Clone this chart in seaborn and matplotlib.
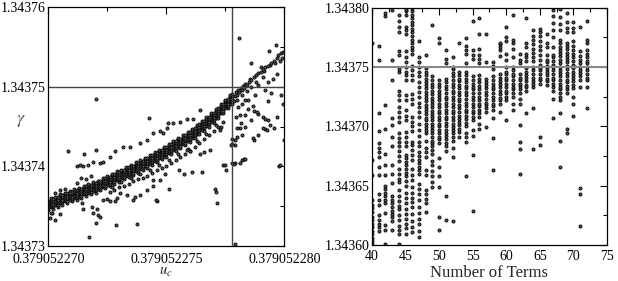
import numpy as np
import pandas as pd
import matplotlib
matplotlib.use("Agg")
import matplotlib.pyplot as plt
import seaborn as sns
from matplotlib.ticker import FixedLocator, FixedFormatter, MultipleLocator

# ---- left panel: gamma vs u_c ----
# u_c given as offset in units of 1e-9 above 0.379052270
# gamma given as offset in units of 1e-5 above 1.34373
UC_BASE = 0.379052270
G_BASE = 1.34373

band_uc = [0.0, 0.1, 0.2, 0.3, 0.4, 0.5, 0.6, 0.7, 0.8, 0.9,
           1.0, 1.1, 1.2, 1.3, 1.4, 1.5, 1.6, 1.7, 1.8, 1.9,
           2.0, 2.1, 2.2, 2.3, 2.4, 2.5, 2.6, 2.7, 2.8, 2.9,
           3.0, 3.1, 3.2, 3.3, 3.4, 3.5, 3.6, 3.7, 3.8, 3.9,
           4.0, 4.1, 4.2, 4.3, 4.4, 4.5, 4.6, 4.7, 4.8, 4.9,
           5.0, 5.1, 5.2, 5.3, 5.4, 5.5, 5.6, 5.7, 5.8, 5.9,
           6.0, 6.1, 6.2, 6.3, 6.4, 6.5, 6.6, 6.7, 6.8, 6.9,
           7.0, 7.1, 7.2, 7.3, 7.4, 7.5, 7.6, 7.7, 7.8]
band_low = [.45, .49, .47, .51, .49, .54, .52, .56, .54, .58,
            .56, .60, .58, .62, .60, .65, .63, .67, .65, .69,
            .67, .71, .70, .74, .73, .77, .75, .80, .78, .83,
            .81, .85, .84, .88, .87, .91, .89, .94, .92, .97,
            .95, 1.00, .98, 1.03, 1.02, 1.07, 1.05, 1.10, 1.09, 1.13,
            1.12, 1.17, 1.16, 1.21, 1.20, 1.25, 1.23, 1.28, 1.27, 1.32,
            1.31, 1.36, 1.36, 1.41, 1.41, 1.46, 1.45, 1.51, 1.50, 1.56,
            1.55, 1.61, 1.61, 1.67, 1.67, 1.73, 1.73, 1.79, 1.79]
band_q1 = [.48, .52, .50, .54, .52, .57, .55, .59, .57, .61,
           .59, .63, .61, .65, .63, .68, .66, .70, .68, .72,
           .70, .74, .73, .77, .76, .80, .78, .83, .81, .86,
           .84, .88, .87, .91, .90, .94, .92, .97, .95, 1.00,
           .98, 1.03, 1.01, 1.06, 1.05, 1.10, 1.08, 1.13, 1.12, 1.16,
           1.15, 1.20, 1.19, 1.24, 1.23, 1.28, 1.26, 1.31, 1.30, 1.35,
           1.34, 1.39, 1.39, 1.44, 1.44, 1.49, 1.48, 1.54, 1.53, 1.59,
           1.58, 1.64, 1.64, 1.70, 1.70, 1.76, 1.76, 1.82, 1.82]
band_mid = [.51, .55, .53, .57, .55, .60, .58, .62, .60, .64,
            .62, .66, .64, .68, .66, .71, .69, .73, .71, .75,
            .73, .77, .76, .80, .79, .83, .81, .86, .84, .89,
            .87, .91, .90, .94, .93, .97, .95, 1.00, .98, 1.03,
            1.01, 1.06, 1.04, 1.09, 1.08, 1.13, 1.11, 1.16, 1.15, 1.19,
            1.18, 1.23, 1.22, 1.27, 1.26, 1.31, 1.29, 1.34, 1.33, 1.38,
            1.37, 1.42, 1.42, 1.47, 1.47, 1.52, 1.51, 1.57, 1.56, 1.62,
            1.61, 1.67, 1.67, 1.73, 1.73, 1.79, 1.79, 1.85, 1.85]
band_q3 = [.54, .58, .56, .60, .58, .63, .61, .65, .63, .67,
           .65, .69, .67, .71, .69, .74, .72, .76, .74, .78,
           .76, .80, .79, .83, .82, .86, .84, .89, .87, .92,
           .90, .94, .93, .97, .96, 1.00, .98, 1.03, 1.01, 1.06,
           1.04, 1.09, 1.07, 1.12, 1.11, 1.16, 1.14, 1.19, 1.18, 1.22,
           1.21, 1.26, 1.25, 1.30, 1.29, 1.34, 1.32, 1.37, 1.36, 1.41,
           1.40, 1.45, 1.45, 1.50, 1.50, 1.55, 1.54, 1.60, 1.59, 1.65,
           1.64, 1.70, 1.70, 1.76, 1.76, 1.82, 1.82, 1.88, 1.88]
band_high = [.57, .60, .59, .62, .61, .65, .64, .67, .66, .69,
             .68, .71, .70, .73, .72, .76, .75, .78, .77, .80,
             .79, .82, .82, .85, .85, .88, .87, .91, .90, .94,
             .93, .96, .96, .99, .99, 1.02, 1.01, 1.05, 1.04, 1.08,
             1.07, 1.11, 1.10, 1.14, 1.14, 1.18, 1.17, 1.21, 1.21, 1.24,
             1.24, 1.28, 1.28, 1.32, 1.32, 1.36, 1.35, 1.39, 1.39, 1.43,
             1.43, 1.47, 1.48, 1.52, 1.53, 1.57, 1.57, 1.62, 1.62, 1.67,
             1.67, 1.72, 1.73, 1.78, 1.79, 1.84, 1.85, 1.90, 1.91]

# scattered points (u_c offset, gamma offset)
scatter_pts = [
    (0.07, .35), (0.14, .41), (0.10, .42), (0.30, .33), (0.50, .40), (1.41, .54),
    (1.48, .47), (1.84, .49), (1.91, .41), (2.05, .47), (2.12, .39), (2.19, .37),
    (1.74, .11), (2.00, .29), (2.85, .26), (3.77, .28), (2.33, .58), (2.47, .59),
    (2.61, .56), (2.82, .56), (2.90, .60), (3.04, .66), (3.32, .64), (3.60, .58),
    (3.67, .62), (3.88, .64), (4.17, .70), (4.45, .75), (4.60, .57), (4.73, .83),
    (4.94, .91), (5.10, .72), (6.10, .93), (7.10, .68), (7.15, .54), (7.92, .03),
    (4.42, .83), (4.56, .58), (5.55, .95), (5.76, .91), (6.50, .93), (7.05, .72),
    (7.42, 1.02), (7.53, .96), (7.91, 1.04), (8.19, 1.08), (8.30, 1.09), (9.79, 1.01),
    (0.30, .66), (0.50, .70), (0.70, .72), (0.90, .66), (1.20, .79), (1.40, .86),
    (1.60, .84), (1.80, .88), (1.20, 1.00), (1.34, 1.02), (1.48, 1.00), (1.69, 1.02),
    (1.91, 1.05), (2.19, 1.04), (2.33, 1.06), (0.82, 1.19), (1.53, 1.16), (2.02, 1.21),
    (2.02, 1.85), (2.61, 1.12), (2.82, 1.19), (3.18, 1.25), (3.46, 1.24), (3.88, 1.29),
    (4.17, 1.33), (4.28, 1.61), (4.45, 1.42), (4.73, 1.44), (5.01, 1.48), (5.08, 1.54),
    (5.30, 1.54), (5.58, 1.56), (5.86, 1.60), (6.14, 1.60), (6.43, 1.71), (4.87, 1.42),
    (7.27, 1.46), (7.30, 1.49), (7.77, 1.34), (7.77, 1.28), (7.98, 1.37), (8.12, 1.48),
    (8.33, 1.50), (8.19, 1.39), (8.73, 1.33), (9.18, 1.47), (10.0, 1.33), (9.80, 1.02),
    (2.60, .68), (2.80, .70), (3.00, .74), (3.20, .76), (3.40, .78), (3.60, .82),
    (3.80, .84), (4.00, .86), (4.20, .88), (4.40, .92), (4.60, .95), (4.80, .98),
    (5.00, 1.00), (5.20, 1.04), (5.40, 1.08), (5.60, 1.12), (5.80, 1.15), (6.00, 1.20),
    (6.20, 1.24), (6.40, 1.29), (6.60, 1.34), (6.80, 1.40), (7.00, 1.45), (7.20, 1.50),
    (7.40, 1.56), (2.70, .74), (3.10, .80), (3.50, .86), (3.90, .90), (4.30, .95),
    (4.70, 1.02), (5.10, 1.08), (5.50, 1.15), (5.90, 1.22), (6.30, 1.32), (6.70, 1.41),
    (7.10, 1.52), (5.86, 1.21), (6.00, 1.19), (6.43, 1.16), (6.60, 1.18), (6.85, 1.21),
    (8.08, 2.61), (9.35, 2.45), (9.66, 2.52), (9.92, 2.36), (8.59, 2.30), (9.00, 2.25),
    (9.15, 2.20), (9.40, 2.28), (9.60, 2.30), (9.80, 2.33), (9.10, 2.12), (9.30, 2.06),
    (9.50, 2.10), (9.70, 2.16), (8.90, 2.02), (9.20, 1.96), (9.45, 1.92), (9.85, 1.90),
    (8.05, 1.75), (8.20, 1.78), (8.45, 1.72), (8.70, 1.70), (8.90, 1.66), (9.10, 1.62),
    (9.30, 1.58), (8.60, 1.58), (8.35, 1.64), (7.95, 1.62), (8.15, 1.55), (9.55, 1.48),
    (9.70, 1.62), (9.95, 1.78), (9.30, 1.82), (8.75, 1.90), (8.69, 1.36), (8.90, 1.39),
    (9.11, 1.48), (9.25, 1.46), (9.39, 1.52), (9.18, 1.60), (8.83, 1.69), (8.69, 1.76),
    (8.47, 1.83), (8.33, 1.83), (8.12, 1.65), (7.98, 1.48), (7.91, 1.33), (7.91, 1.27),
    (7.73, 1.27), (8.12, 1.04), (7.88, 1.03), (8.33, 1.09), (7.49, 1.02), (7.77, 1.04),
    (7.90, 1.88), (7.95, 1.93), (8.00, 1.90), (8.05, 1.96), (8.10, 1.93), (8.15, 1.99),
    (8.20, 1.96), (8.25, 2.01), (8.30, 1.99), (8.35, 2.04), (8.40, 2.02), (8.50, 2.06),
    (8.55, 2.10), (8.60, 2.08), (8.70, 2.12), (8.80, 2.15), (8.90, 2.17), (9.00, 2.19),
    (9.10, 2.22), (9.20, 2.25), (9.30, 2.26), (9.45, 2.30), (9.55, 2.33), (9.70, 2.36),
    (9.75, 2.40), (9.85, 2.42), (9.95, 2.44), (7.85, 1.82), (8.00, 1.84), (8.20, 1.90),
    (8.40, 1.95), (8.60, 2.00), (8.80, 2.06),
]

uc_mark = 7.77          # vertical reference line (offset units)
gamma_mark = 1.34375    # horizontal reference line

# ---- right panel: gamma vs number of terms ----
# gamma given as offset in units of 1e-5 above 1.3436
R_BASE = 1.3436
terms = list(range(40, 73))
terms_gamma = [
    [0.1, 0.3, 0.6, 0.9, 1.2, 1.5, 1.8, 2.1, 2.4, 2.8, 3.1, 3.4, 3.8, 5.9, 7.2, 17.0],
    [1.2, 1.5, 1.8, 2.1, 2.5, 3.4, 3.8, 4.3, 5.9, 6.6, 7.4, 7.8, 8.2, 8.6, 9.6, 11.1, 15.6, 16.8],
    [0.1, 1.3, 1.7, 2.7, 3.5, 3.8, 4.1, 4.4, 4.7, 5.0, 5.9, 6.7, 7.7, 9.8, 11.8, 19.3, 19.5],
    [1.3, 2.0, 2.4, 2.6, 2.9, 3.2, 3.5, 3.8, 4.1, 5.2, 6.0, 6.7, 8.3, 9.1, 10.1, 10.7, 13.9, 15.6, 19.8],
    [0.1, 0.9, 1.3, 1.6, 2.1, 2.5, 3.0, 3.3, 3.7, 4.1, 4.6, 5.3, 5.6, 6.0, 6.4, 7.1, 7.5, 7.9, 8.3,
     8.7, 9.0, 9.4, 10.4, 10.8, 11.2, 11.6, 12.2, 12.6, 13.0, 14.6, 14.8, 16.0, 16.3, 17.9, 18.4,
     18.9, 19.4],
    [0.9, 1.4, 1.8, 2.2, 2.6, 3.0, 3.5, 4.0, 4.4, 5.0, 5.4, 5.8, 6.1, 6.4, 6.7, 7.0, 7.3, 7.6, 8.3,
     8.7, 9.1, 9.5, 10.5, 10.9, 11.4, 12.2, 12.6, 13.9, 14.3, 14.6, 15.0, 15.4, 15.8, 16.3, 17.8,
     18.1, 18.4, 19.4, 19.7, 19.9],
    [1.1, 1.5, 2.0, 2.6, 3.2, 3.6, 4.0, 4.4, 4.9, 5.5, 5.9, 6.4, 7.2, 7.6, 8.0, 8.4, 8.7, 9.6, 10.0,
     10.4, 10.8, 11.9, 12.3, 12.7, 13.9, 14.3, 14.7, 15.1, 16.1, 16.4, 16.7, 17.0, 17.3, 17.6, 17.9,
     18.2, 18.5, 18.8, 19.1, 19.4, 19.7, 20.0],
    [0.7, 1.2, 1.8, 2.2, 2.7, 3.2, 3.8, 4.3, 4.7, 5.1, 6.0, 6.3, 6.6, 6.9, 7.2, 7.5, 7.8, 8.3, 8.7,
     9.2, 9.7, 10.2, 10.8, 11.2, 11.6, 12.0, 12.5, 12.9, 13.3, 13.7, 14.2, 14.6, 15.0, 15.4, 15.8, 17.2],
    [2.8, 3.5, 3.9, 4.3, 4.6, 5.9, 6.3, 7.4, 7.8, 8.2, 8.8, 9.4, 9.7, 9.9, 10.2, 10.5, 10.7, 11.0,
     11.3, 11.5, 11.8, 12.1, 12.4, 12.6, 12.9, 13.2, 13.5, 13.7, 14.0, 14.3, 14.6, 14.9, 16.0],
    [4.9, 5.3, 5.8, 6.2, 6.7, 7.1, 7.7, 8.0, 8.3, 8.6, 8.8, 9.1, 9.4, 9.7, 9.9, 10.2, 10.5, 10.8,
     11.0, 11.3, 11.6, 11.9, 12.1, 12.4, 12.7, 13.0, 13.3, 13.6, 13.9, 14.2, 18.5],
    [1.3, 2.4, 4.9, 5.8, 6.6, 7.3, 8.6, 8.9, 9.1, 9.4, 9.7, 10.0, 10.2, 10.5, 10.8, 11.1, 11.3, 11.6,
     11.9, 12.2, 12.5, 12.7, 13.0, 13.3, 13.6, 13.9, 17.0, 17.4],
    [2.1, 4.1, 7.9, 8.3, 8.6, 8.9, 9.2, 9.4, 9.7, 10.0, 10.3, 10.6, 10.8, 11.1, 11.4, 11.7, 12.0,
     12.3, 12.5, 12.8, 13.1, 13.4, 13.7, 14.0, 15.3, 15.7, 16.4],
    [2.0, 7.4, 8.2, 8.8, 9.1, 9.4, 9.7, 9.9, 10.2, 10.5, 10.8, 11.1, 11.3, 11.6, 11.9, 12.2, 12.5,
     12.8, 13.0, 13.3, 13.6, 13.9, 14.2, 14.5, 14.8, 15.0, 15.8],
    [9.1, 9.5, 9.8, 10.1, 10.4, 10.6, 10.9, 11.2, 11.5, 11.8, 12.1, 12.3, 12.6, 12.9, 13.2, 13.5,
     13.8, 14.0, 14.3, 14.6, 17.0],
    [5.8, 8.7, 9.1, 9.4, 10.0, 10.3, 10.6, 10.9, 11.2, 11.4, 11.7, 12.0, 12.3, 12.6, 12.9, 13.2,
     13.4, 13.7, 14.0, 14.3, 14.6, 15.3, 16.1, 16.4, 16.8, 17.4],
    [2.9, 7.6, 9.2, 9.7, 10.5, 10.8, 11.1, 11.3, 11.6, 11.9, 12.2, 12.5, 12.8, 13.1, 13.3, 13.6,
     13.9, 14.2, 15.7, 16.0, 16.4, 18.9],
    [9.8, 10.2, 10.8, 11.1, 11.4, 11.7, 11.9, 12.2, 12.5, 12.8, 13.1, 13.4, 13.7, 14.0, 14.3, 15.3,
     15.7, 16.0, 16.5, 17.8, 19.1],
    [9.9, 11.2, 11.5, 11.8, 12.0, 12.3, 12.6, 12.9, 13.2, 13.5, 13.7, 14.0, 15.4, 17.8],
    [6.3, 9.0, 10.7, 11.4, 11.7, 11.9, 12.2, 12.5, 12.8, 13.1, 13.3, 13.6, 13.9, 14.2, 14.8, 15.1, 15.4],
    [11.2, 11.9, 12.2, 12.4, 12.7, 13.0, 13.3, 13.6, 13.8, 14.1, 14.4, 15.9, 16.4, 16.7, 16.9, 17.0],
    [10.5, 12.2, 12.5, 12.8, 13.0, 13.3, 13.6, 13.9, 14.1, 14.4, 14.6, 15.0, 15.6, 16.1, 17.2, 17.5, 18.4],
    [11.4, 11.9, 12.5, 12.8, 13.1, 13.3, 13.6, 13.9, 14.2, 14.4, 14.7, 15.0, 15.8, 16.5, 17.0, 17.3, 19.4],
    [6.0, 8.1, 8.7, 10.1, 11.9, 12.3, 12.8, 13.1, 13.4, 13.6, 13.9, 14.1, 14.4, 15.3, 15.6, 16.1],
    [11.1, 13.0, 13.3, 13.5, 13.8, 14.1, 14.3, 14.6, 14.9, 15.5, 15.8, 16.1, 16.7, 17.0, 19.1],
    [8.1, 11.5, 13.3, 13.6, 13.8, 14.1, 14.4, 14.7, 15.0, 15.5, 15.8, 16.2, 16.5, 16.9, 17.3, 17.6, 18.1],
    [8.4, 9.1, 13.6, 13.9, 14.1, 14.4, 14.7, 14.9, 15.2, 15.6, 16.0, 16.4, 16.8, 17.2, 17.6, 17.9, 18.2],
    [13.5, 13.8, 14.0, 14.3, 14.6, 14.8, 15.1, 15.4, 15.6, 16.0, 16.7, 17.0, 17.8],
    [10.7, 12.3, 13.0, 13.3, 13.6, 13.9, 14.1, 14.4, 14.7, 15.0, 15.2, 15.5, 15.8, 16.0, 16.7, 17.5,
     18.1, 18.7, 19.3, 19.8],
    [6.6, 8.8, 11.1, 12.2, 12.5, 12.8, 13.1, 13.3, 13.6, 13.9, 14.2, 14.5, 14.7, 15.0, 15.3, 15.6,
     15.9, 16.2, 16.4, 16.7, 17.0, 17.3, 18.1, 18.6, 19.2, 19.9],
    [9.4, 9.8, 12.8, 13.1, 13.4, 13.7, 13.9, 14.2, 14.5, 14.8, 15.1, 15.4, 15.7, 15.9, 16.2, 16.5,
     16.8, 17.0, 17.9, 18.3, 18.8, 19.5],
    [10.9, 11.9, 12.5, 13.2, 13.5, 13.8, 14.1, 14.3, 14.6, 14.9, 15.2, 15.5, 15.8, 16.1, 16.4, 16.8,
     17.2, 17.9, 18.3, 18.8],
    [1.6, 4.3, 4.8, 13.3, 13.9, 14.2, 14.5, 14.7, 15.0, 15.3, 15.6, 15.9, 16.3, 18.4],
    [11.5, 13.3, 13.9, 14.1, 14.4, 14.7, 15.0, 15.3, 15.5, 15.8, 16.1, 16.4, 17.0, 17.3, 18.9],
]

left_xticks = [UC_BASE, UC_BASE + 5e-9, UC_BASE + 10e-9]
left_xlabels = ["0.379052270", "0.379052275", "0.379052280"]
left_yticks = [1.34373, 1.34374, 1.34375, 1.34376]
right_yticks = [1.34360, 1.34365, 1.34370, 1.34375, 1.34380]


def build_frames():
    uc_off = band_uc * 5 + [p[0] for p in scatter_pts]
    g_off = (band_low + band_q1 + band_mid + band_q3 + band_high
             + [p[1] for p in scatter_pts])
    left = pd.DataFrame({
        "u_c": UC_BASE + np.array(uc_off) * 1e-9,
        "gamma": G_BASE + np.array(g_off) * 1e-5,
    })
    rows = []
    for n, vals in zip(terms, terms_gamma):
        for v in vals:
            rows.append((n, R_BASE + v * 1e-5))
    right = pd.DataFrame(rows, columns=["terms", "gamma"])
    return left, right


def style_axes(ax, xpad):
    for sp in ax.spines.values():
        sp.set_color("black")
        sp.set_linewidth(0.9)
    ax.tick_params(which="both", direction="in", top=True, right=True,
                   labelsize=10, colors="black", width=0.8)
    ax.tick_params(axis="y", pad=2)
    ax.tick_params(axis="x", pad=xpad)
    ax.tick_params(which="major", length=5)
    ax.tick_params(which="minor", length=3)


sns.set_theme(style="white")
plt.rcParams["font.family"] = ["Liberation Serif", "DejaVu Serif"]
plt.rcParams["mathtext.fontset"] = "stix"

left_df, right_df = build_frames()

fig = plt.figure(figsize=(6.18, 2.81), dpi=100)
ax1 = fig.add_axes([0.0782, 0.1246, 0.3819, 0.8495])
ax2 = fig.add_axes([0.6019, 0.1281, 0.3803, 0.8450])

mk = dict(marker="o", s=5, facecolor="#555555", edgecolor="black", linewidth=0.6)

sns.scatterplot(data=left_df, x="u_c", y="gamma", ax=ax1, **mk)
ax1.axvline(UC_BASE + uc_mark * 1e-9, color="#444444", lw=1.0)
ax1.axhline(gamma_mark, color="#444444", lw=1.0)
ax1.set_xlim(UC_BASE, UC_BASE + 10e-9)
ax1.set_ylim(1.34373, 1.34376)
ax1.xaxis.set_major_locator(FixedLocator(left_xticks))
ax1.xaxis.set_major_formatter(FixedFormatter(left_xlabels))
ax1.xaxis.set_minor_locator(FixedLocator([UC_BASE + 2.5e-9, UC_BASE + 7.5e-9]))
ax1.yaxis.set_major_locator(FixedLocator(left_yticks))
ax1.yaxis.set_major_formatter(FixedFormatter(["1.34373", "1.34374", "1.34375", "1.34376"]))
ax1.yaxis.set_minor_locator(FixedLocator([1.343735, 1.343745, 1.343755]))
style_axes(ax1, 5.3)
ax1.set_xlabel(r"$u_c$", fontsize=10.5)
ax1.xaxis.set_label_coords(0.5, -0.081)
ax1.set_ylabel(r"$\gamma$", fontsize=13, rotation=0, color="#555555")
ax1.yaxis.set_label_coords(-0.115, 0.49)

sns.scatterplot(data=right_df, x="terms", y="gamma", ax=ax2, **mk)
ax2.axhline(gamma_mark, color="#888888", lw=1.5)
ax2.set_xlim(40, 75)
ax2.set_ylim(1.3436, 1.3438)
ax2.xaxis.set_major_locator(MultipleLocator(5))
ax2.xaxis.set_minor_locator(MultipleLocator(2.5))
ax2.yaxis.set_major_locator(FixedLocator(right_yticks))
ax2.yaxis.set_major_formatter(FixedFormatter(["1.34360", "1.34365", "1.34370", "1.34375", "1.34380"]))
ax2.yaxis.set_minor_locator(FixedLocator([1.343625, 1.343675, 1.343725, 1.343775]))
style_axes(ax2, 3.5)
ax2.set_xlabel("Number of Terms", fontsize=12)
ax2.xaxis.set_label_coords(0.5, -0.085)
ax2.set_ylabel("")

fig.savefig("out.png", dpi=100)
plt.close(fig)
